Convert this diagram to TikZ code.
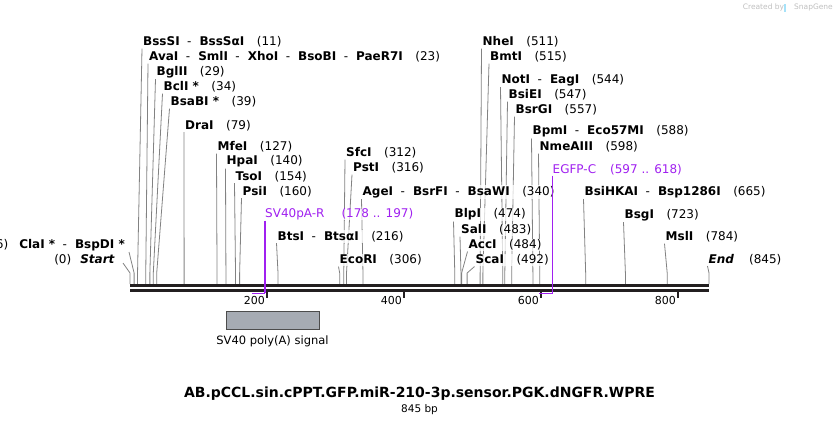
\documentclass[tikz,border=0pt]{standalone}
\usepackage{fontspec}
\setmainfont{DejaVu Sans}
\usetikzlibrary{positioning}
\pgfdeclarelayer{bg}
\pgfsetlayers{bg,main}

\definecolor{primer}{RGB}{160,32,240}
\definecolor{cutgray}{RGB}{130,130,130}
\definecolor{featgray}{RGB}{166,171,179}
\definecolor{bbone}{RGB}{35,31,32}

\begin{document}
\begin{tikzpicture}[x=1pt,y=-1pt,
		cut/.style={draw=cutgray,line width=0.8pt},
		enz/.style={anchor=west,inner sep=1pt,fill=white,fill opacity=.75,text opacity=1,font=\fontsize{12}{14}\selectfont},
		enzr/.style={enz,anchor=east},
		prm/.style={enz,text=primer},
		prmline/.style={draw=primer,line width=1.4pt},
		tickmark/.style={draw=bbone,line width=2pt},
		ticklabel/.style={anchor=east,inner sep=0pt,font=\fontsize{11}{13}\selectfont}]
			\def\bx{130}
			\def\by{284}
			\def\sc{0.68521}
			\def\en#1{\textbf{#1}}
			\def\sep{\hspace{7.5pt}-\hspace{8pt}}
			\def\ps#1{\hspace{12.5pt}(#1)}
			\useasboundingbox (0,0) rectangle (839,423);
			% backbone
			\draw[bbone,line width=3pt] (\bx,285.5) -- ({\bx+845*\sc},285.5);
			\draw[bbone,line width=3pt] (\bx,290) -- ({\bx+845*\sc},290);
			\foreach \t in {200,400,600,800}{
				\coordinate (t\t) at ({\bx+\t*\sc},291);
				\draw[tickmark] (t\t) -- ++(0,6.5);
				\node[ticklabel] (n\t) at ({\bx+\t*\sc-2},300) {\t};
			}
			% cut sites
			\def\sites{
				11/143/42/{\en{BssSI}\sep\en{BssSαI}\ps{11}},
				23/149/57/{\en{AvaI}\sep\en{SmlI}\sep\en{XhoI}\sep\en{BsoBI}\sep\en{PaeR7I}\ps{23}},
				29/156.5/72/{\en{BglII}\ps{29}},
				34/163.5/87/{\en{BclI *}\ps{34}},
				39/170.5/102/{\en{BsaBI *}\ps{39}},
				79/185/125.5/{\en{DraI}\ps{79}},
				127/217.5/147/{\en{MfeI}\ps{127}},
				140/226.5/161.5/{\en{HpaI}\ps{140}},
				154/235.5/176.5/{\en{TsoI}\ps{154}},
				160/242.5/191.5/{\en{PsiI}\ps{160}},
				216/277.5/236.5/{\en{BtsI}\sep\en{BtsαI}\ps{216}},
				306/339.5/260/{\en{EcoRI}\ps{306}},
				312/346/153/{\en{SfcI}\ps{312}},
				316/353/168/{\en{PstI}\ps{316}},
				340/362.5/192/{\en{AgeI}\sep\en{BsrFI}\sep\en{BsaWI}\ps{340}},
				474/454.5/214.5/{\en{BlpI}\ps{474}},
				483/461/230/{\en{SalI}\ps{483}},
				484/468.5/245/{\en{AccI}\ps{484}},
				492/475.5/260/{\en{ScaI}\ps{492}},
				511/482.5/42/{\en{NheI}\ps{511}},
				515/490/57/{\en{BmtI}\ps{515}},
				544/501.5/80/{\en{NotI}\sep\en{EagI}\ps{544}},
				547/508.5/95/{\en{BsiEI}\ps{547}},
				557/515.5/110/{\en{BsrGI}\ps{557}},
				588/532.5/131.5/{\en{BpmI}\sep\en{Eco57MI}\ps{588}},
				598/539.5/147/{\en{NmeAIII}\ps{598}},
				665/584.5/192/{\en{BsiHKAI}\sep\en{Bsp1286I}\ps{665}},
				723/624.5/215/{\en{BsgI}\ps{723}},
				784/665.5/237/{\en{MslI}\ps{784}},
				845/708.5/259.5/{\en{\textit{End}}\hspace{2.5pt}\ps{845}}}
			\foreach \p/\lx/\ly/\txt in \sites{
				\coordinate (s\p) at ({\bx+\p*\sc},\by);
				\node[enz] (l\p) at (\lx-1,\ly) {\txt};
				\begin{pgfonlayer}{bg}
					\draw[cut] (s\p) -- ++(0,-11) -- (l\p.south west);
				\end{pgfonlayer}
			}
			% left end labels
			\coordinate (s6) at ({\bx+6*\sc},\by);
			\coordinate (s0) at (\bx,\by);
			\node[enzr] (l6) at (126,245) {(6)\hspace{11pt}\en{ClaI *}\sep\en{BspDI *}};
			\node[enzr] (l0) at (116,259.5) {(0)\hspace{9pt}\en{\textit{Start}}};
			\begin{pgfonlayer}{bg}
				\draw[cut] (s6) -- ++(0,-11) -- ([xshift=3pt]l6.south east);
				\draw[cut] (s0) -- ++(0,-11) -- ([xshift=7pt,yshift=3pt]l0.south east);
			\end{pgfonlayer}
			% primers
			\coordinate (p178) at ({\bx+178*\sc},293.3);
			\coordinate (p597) at ({\bx+597*\sc},293.3);
			\node[prm,inner sep=0pt] (svr) at (265,214.5) {SV40pA-R\hspace{17pt}(178 .. 197)};
			\node[prm,inner sep=0pt] (egfp) at (552.5,170) {EGFP-C\hspace{14pt}(597 .. 618)};
			\draw[prmline,line width=1.3pt] (svr.south west) -- (svr.south west |- p178);
			\draw[prmline] (svr.south west |- p178) -- (p178);
			\draw[prmline,line width=1.3pt] (egfp.south west) -- (egfp.south west |- p597);
			\draw[prmline] (egfp.south west |- p597) -- (p597);
			% feature
			\node[draw=black!70,fill=featgray,line width=0.8pt,minimum width=93pt,minimum height=18pt,inner sep=0pt] (polyA) at (272.5,320.5) {};
			\node[below=6pt of polyA,inner sep=0pt,font=\fontsize{11.5}{13}\selectfont] (polyAl) {SV40 poly(A) signal};
			% title
			\node[inner sep=0pt,font=\fontsize{14}{16}\selectfont\bfseries] (title) at (419.5,393.5) {AB.pCCL.sin.cPPT.GFP.miR-210-3p.sensor.PGK.dNGFR.WPRE};
			\node[inner sep=0pt,font=\fontsize{10.5}{12}\selectfont] (size) at (419.5,409.5) {845 bp};
			% stamp
			\node[anchor=east,inner sep=0pt,text=black!25,font=\fontsize{7.5}{9}\selectfont] (stamp) at (833,7.5) {Created by\hspace{10pt}SnapGene};
			\fill[cyan!35] (783.5,3.5) rectangle (786,11.5);
\end{tikzpicture}
\end{document}
